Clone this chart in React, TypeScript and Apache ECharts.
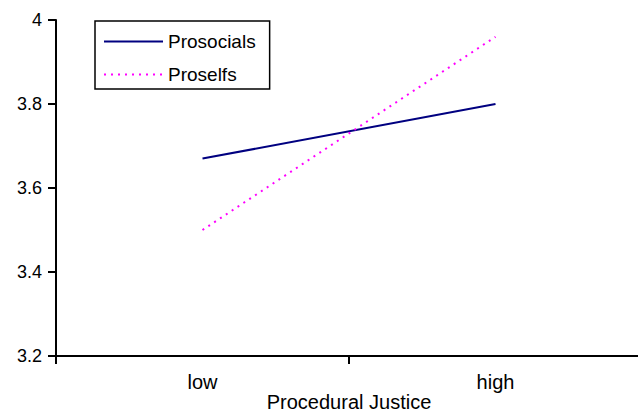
import React, { useEffect, useRef } from "react";
import * as echarts from "echarts";

const categories = ["low", "high"];
const prosocials = [3.67, 3.8];
const proselfs = [3.5, 3.96];
const yTicks = { min: 3.2, max: 4, interval: 0.2 };

export default function App() {
  const ref = useRef<HTMLDivElement>(null);
  useEffect(() => {
    document.body.style.margin = "0";
    const chart = echarts.init(ref.current!, null, { renderer: "svg" });
    const font = "Liberation Sans, Arial, sans-serif";
    chart.setOption({
      animation: false,
      textStyle: { fontFamily: font },
      grid: {
        left: 56,
        top: 20,
        width: 586,
        height: 336,
        containLabel: false,
        outerBoundsMode: "none",
      },
      legend: {
        orient: "vertical",
        left: 95,
        top: 21,
        padding: [11, 14, 5, 8],
        itemGap: 14,
        itemWidth: 59,
        itemHeight: 19,
        borderColor: "#000",
        borderWidth: 1.5,
        itemStyle: { opacity: 0 },
        textStyle: { fontFamily: font, fontSize: 19, color: "#000" },
        data: ["Prosocials", "Proselfs"],
      },
      xAxis: {
        type: "category",
        data: categories,
        boundaryGap: true,
        name: "Procedural Justice",
        nameLocation: "middle",
        nameGap: 36,
        nameMoveOverlap: false,
        nameTextStyle: { fontFamily: font, fontSize: 20, color: "#000" },
        axisLine: { lineStyle: { color: "#000", width: 2 } },
        axisTick: { show: true, length: 8, lineStyle: { color: "#000", width: 2 } },
        axisLabel: { margin: 16, fontFamily: font, fontSize: 20, color: "#000" },
        splitLine: { show: false },
      },
      yAxis: {
        type: "value",
        min: yTicks.min,
        max: yTicks.max,
        interval: yTicks.interval,
        axisLine: { show: true, lineStyle: { color: "#000", width: 2 } },
        axisTick: { show: true, length: 8, lineStyle: { color: "#000", width: 2 } },
        axisLabel: {
          margin: 14,
          fontFamily: font,
          fontSize: 18,
          color: "#000",
          formatter: (v: number) => String(Math.round(v * 10) / 10),
        },
        splitLine: { show: false },
      },
      series: [
        {
          name: "Prosocials",
          type: "line",
          data: prosocials,
          symbol: "none",
          lineStyle: { color: "#000080", width: 2 },
          itemStyle: { color: "#000080" },
        },
        {
          name: "Proselfs",
          type: "line",
          data: proselfs,
          symbol: "none",
          lineStyle: { color: "#FF00FF", width: 2, type: [2, 5] },
          itemStyle: { color: "#FF00FF" },
        },
      ],
    });
    return () => chart.dispose();
  }, []);
  return (
    <div
      ref={ref}
      style={{ position: "absolute", left: 0, top: 0, width: 638, height: 412 }}
    />
  );
}
